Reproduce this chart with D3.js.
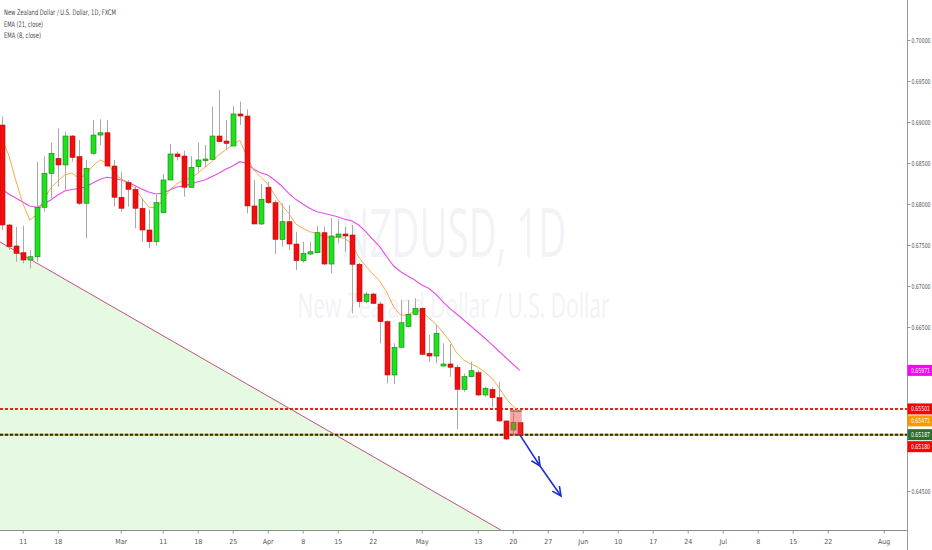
<!DOCTYPE html>
<html>
<head>
<meta charset="utf-8">
<script src="https://d3js.org/d3.v7.min.js"></script>
<style>
html, body { margin: 0; padding: 0; background: #fff; overflow: hidden; }
text { font-family: "Liberation Sans Narrow", "DejaVu Sans Condensed", sans-serif; }
</style>
</head>
<body>
<div id="chart"></div>
<script>
// NZDUSD daily, FXCM, Feb 6 - May 21 2019
var dates = ['02-06','02-07','02-08','02-11','02-12','02-13','02-14','02-15','02-18','02-19',
	'02-20','02-21','02-22','02-25','02-26','02-27','02-28','03-01','03-04','03-05',
	'03-06','03-07','03-08','03-11','03-12','03-13','03-14','03-15','03-18','03-19',
	'03-20','03-21','03-22','03-25','03-26','03-27','03-28','03-29','04-01','04-02',
	'04-03','04-04','04-05','04-08','04-09','04-10','04-11','04-12','04-15','04-16',
	'04-17','04-18','04-19','04-22','04-23','04-24','04-25','04-26','04-29','04-30',
	'05-01','05-02','05-03','05-06','05-07','05-08','05-09','05-10','05-13','05-14',
	'05-15','05-16','05-17','05-20','05-21'];

var open = [0.68963,0.67744,0.67488,0.67406,0.67317,0.67357,0.67960,0.68374,0.68557,0.68476,
	0.68829,0.68577,0.68009,0.68618,0.68841,0.68869,0.68463,0.68082,0.68260,0.68179,
	0.67948,0.67683,0.67540,0.67894,0.68293,0.68610,0.68585,0.68204,0.68455,0.68529,
	0.68545,0.68829,0.68768,0.68707,0.69098,0.69073,0.67976,0.67756,0.68204,0.68016,
	0.67569,0.67784,0.67512,0.67309,0.67390,0.67406,0.67650,0.67268,0.67598,0.67634,
	0.67622,0.67265,0.66809,0.66902,0.66780,0.66565,0.65915,0.66252,0.66504,0.66655,
	0.66728,0.66180,0.66146,0.66024,0.66049,0.66009,0.65740,0.65894,0.65943,0.65671,
	0.65740,0.65638,0.65354,0.65244,0.65333];
var high = [0.69067,0.67760,0.67722,0.67735,0.67439,0.68516,0.68582,0.68748,0.68923,0.68882,
	0.68841,0.68780,0.68537,0.69024,0.69033,0.69024,0.68537,0.68394,0.68293,0.68211,
	0.68070,0.67935,0.68110,0.68366,0.68732,0.68640,0.68650,0.68585,0.68748,0.68720,
	0.69187,0.69390,0.69024,0.69195,0.69248,0.69155,0.68293,0.68244,0.68272,0.68049,
	0.68008,0.67988,0.67662,0.67540,0.67540,0.67732,0.67722,0.67826,0.67813,0.67720,
	0.67744,0.67280,0.66930,0.66918,0.66808,0.66580,0.66301,0.66829,0.66829,0.66850,
	0.66740,0.66402,0.66524,0.66301,0.66293,0.66037,0.65935,0.66077,0.65976,0.65772,
	0.65764,0.65833,0.65354,0.65455,0.65333];
var low = [0.67683,0.67440,0.67296,0.67277,0.67216,0.67296,0.67906,0.68070,0.68211,0.68171,
	0.68516,0.67988,0.67582,0.68598,0.68720,0.68455,0.67967,0.67906,0.67967,0.67704,
	0.67540,0.67460,0.67491,0.67886,0.68293,0.68530,0.68089,0.68204,0.68394,0.68447,
	0.68537,0.68760,0.68659,0.68707,0.68963,0.67886,0.67756,0.67744,0.68000,0.67390,
	0.67480,0.67439,0.67195,0.67284,0.67378,0.67399,0.67256,0.67155,0.67520,0.67418,
	0.66667,0.66740,0.66789,0.66780,0.66301,0.65813,0.65805,0.66252,0.66496,0.66646,
	0.66160,0.66077,0.66057,0.66016,0.65894,0.65252,0.65711,0.65887,0.65659,0.65650,
	0.65521,0.65345,0.65122,0.65183,0.65174];
var close = [0.67744,0.67479,0.67399,0.67317,0.67357,0.67960,0.68374,0.68618,0.68476,0.68829,
	0.68569,0.68009,0.68435,0.68841,0.68869,0.68463,0.68082,0.67948,0.68179,0.67948,
	0.67683,0.67540,0.68016,0.68293,0.68610,0.68577,0.68204,0.68447,0.68537,0.68549,
	0.68829,0.68760,0.68740,0.69098,0.69073,0.67976,0.67756,0.68057,0.68016,0.67569,
	0.67784,0.67512,0.67309,0.67399,0.67418,0.67650,0.67268,0.67610,0.67634,0.67610,
	0.67265,0.66809,0.66902,0.66789,0.66565,0.65915,0.66252,0.66552,0.66655,0.66728,
	0.66167,0.66146,0.66423,0.66049,0.66009,0.65740,0.65894,0.65967,0.65671,0.65752,
	0.65638,0.65354,0.65134,0.65338,0.65180];

// indicator values
var ema21 = [0.68183,0.68122,0.68073,0.68024,0.67976,0.67960,0.68000,0.68049,0.68110,0.68159,
	0.68177,0.68189,0.68207,0.68256,0.68299,0.68326,0.68317,0.68293,0.68268,0.68226,
	0.68183,0.68146,0.68122,0.68134,0.68171,0.68207,0.68220,0.68244,0.68272,0.68293,
	0.68333,0.68374,0.68423,0.68463,0.68516,0.68496,0.68423,0.68382,0.68354,0.68293,
	0.68220,0.68130,0.68057,0.68000,0.67948,0.67906,0.67887,0.67866,0.67845,0.67813,
	0.67796,0.67744,0.67662,0.67570,0.67479,0.67357,0.67244,0.67174,0.67122,0.67073,
	0.67012,0.66972,0.66902,0.66809,0.66728,0.66659,0.66585,0.66512,0.66439,0.66366,
	0.66287,0.66207,0.66128,0.66049,0.65971];
var ema8 = [0.68793,0.68598,0.68293,0.68012,0.67805,0.67866,0.68049,0.68195,0.68280,0.68354,
	0.68378,0.68317,0.68354,0.68463,0.68537,0.68500,0.68390,0.68305,0.68268,0.68195,
	0.68073,0.67963,0.67951,0.68037,0.68171,0.68244,0.68293,0.68317,0.68374,0.68448,
	0.68516,0.68598,0.68659,0.68720,0.68780,0.68585,0.68415,0.68329,0.68244,0.68110,
	0.67988,0.67887,0.67756,0.67704,0.67662,0.67643,0.67601,0.67594,0.67594,0.67582,
	0.67512,0.67354,0.67244,0.67146,0.67061,0.66927,0.66744,0.66646,0.66646,0.66695,
	0.66695,0.66610,0.66537,0.66439,0.66329,0.66183,0.66098,0.66049,0.66012,0.65951,
	0.65878,0.65768,0.65634,0.65537,0.65471];

var priceTicks = [0.645,0.650,0.655,0.660,0.665,0.670,0.675,0.680,0.685,0.690,0.695,0.700];
var tickIdx  = [3,8,17,23,28,33,38,43,48,53,60,68,73,78,83,88,93,98,103,108,113,118,126];
var tickText = ['11','18','Mar','11','18','25','Apr','8','15','22','May','13','20','27','Jun','10','17','24','Jul','8','15','22','Aug'];

// drawings (bar index, price)
var trendLine = [[-1, 0.67574], [71.3, 0.64024]];
var levelRed = 0.65501;
var levelBlack = 0.65187;
var zoneBox = [[72.6, 0.65476], [74.3, 0.65174]];
var arrowPts = [[74, 0.65187], [76.9, 0.64805], [79.9, 0.64439]];
var tagValues = [0.65971, 0.65501, 0.65471, 0.65187, 0.65180];

var W = 932, H = 550;
var plotW = 907, plotH = 530;
var fmt = d3.format('.5f');

var svg = d3.select('#chart').append('svg').attr('width', W).attr('height', H);

var x = d3.scaleLinear().domain([0, 126]).range([1.7, 883.7]);
var y = d3.scaleLinear().domain([0.645, 0.700]).range([491, 40]);
var bodyW = 5;

// squeeze a label horizontally to a target width (the scale's font is very narrow)
function squeeze(sel, width) {
	sel.each(function(){
		var t = d3.select(this);
		var len = this.getComputedTextLength();
		var x0 = +t.attr('x') || 0, y0 = +t.attr('y') || 0;
		if (len > width) {
			var k = width / len;
			t.attr('transform', 'translate(' + x0 + ',' + y0 + ') scale(' + k + ',1)')
				.attr('x', 0).attr('y', 0);
		}
	});
}

svg.append('clipPath').attr('id', 'plotclip')
	.append('rect').attr('x', 0).attr('y', 0).attr('width', plotW).attr('height', plotH);

var plot = svg.append('g').attr('clip-path', 'url(#plotclip)');

// watermark
plot.append('text')
	.attr('x', plotW / 2).attr('y', 257)
	.attr('text-anchor', 'middle')
	.attr('font-size', 68)
	.attr('textLength', 226).attr('lengthAdjust', 'spacingAndGlyphs')
	.style('font-family', '"Open Sans", "Noto Sans", sans-serif')
	.attr('fill', '#f2f3f7')
	.text('NZDUSD, 1D');
plot.append('text')
	.attr('x', plotW / 2).attr('y', 318)
	.attr('text-anchor', 'middle')
	.attr('font-size', 34)
	.attr('textLength', 312).attr('lengthAdjust', 'spacingAndGlyphs')
	.style('font-family', '"Open Sans", "Noto Sans", sans-serif')
	.attr('fill', '#f2f3f7')
	.text('New Zealand Dollar / U.S. Dollar');

// green zone under the trend line
var bottomPrice = y.invert(plotH);
plot.append('path')
	.attr('d', d3.line()([
		[x(trendLine[0][0]), y(trendLine[0][1])],
		[x(trendLine[1][0]), y(trendLine[1][1])],
		[x(trendLine[0][0]), y(bottomPrice)]
	]) + 'Z')
	.attr('fill', '#e6f9e2');
plot.append('line')
	.attr('x1', x(trendLine[0][0])).attr('y1', y(trendLine[0][1]))
	.attr('x2', x(trendLine[1][0])).attr('y2', y(trendLine[1][1]))
	.attr('stroke', '#c2507a').attr('stroke-width', 1);

// horizontal levels
plot.append('line')
	.attr('x1', 0).attr('x2', plotW)
	.attr('y1', y(levelRed)).attr('y2', y(levelRed))
	.attr('stroke', '#ff1a1a').attr('stroke-width', 2)
	.attr('stroke-dasharray', '3,2');
plot.append('line')
	.attr('x1', 0).attr('x2', plotW)
	.attr('y1', y(levelBlack)).attr('y2', y(levelBlack))
	.attr('stroke', '#c9b227').attr('stroke-width', 2);
plot.append('line')
	.attr('x1', 0).attr('x2', plotW)
	.attr('y1', y(levelBlack)).attr('y2', y(levelBlack))
	.attr('stroke', '#2b2b2b').attr('stroke-width', 2)
	.attr('stroke-dasharray', '3,2');

// EMAs
var emaLine = d3.line().x(function(d, i){ return x(i); }).y(function(d){ return y(d); });
plot.append('path').attr('d', emaLine(ema21))
	.attr('fill', 'none').attr('stroke', '#ea4ce8').attr('stroke-width', 1.1);
plot.append('path').attr('d', emaLine(ema8))
	.attr('fill', 'none').attr('stroke', '#f6a94b').attr('stroke-width', 1);

// candles
var idx = d3.range(dates.length);
var candles = plot.append('g').selectAll('g').data(idx).enter().append('g');
candles.append('line')
	.attr('x1', function(i){ return Math.round(x(i)) + 0.5; })
	.attr('x2', function(i){ return Math.round(x(i)) + 0.5; })
	.attr('y1', function(i){ return y(high[i]); })
	.attr('y2', function(i){ return y(low[i]); })
	.attr('stroke', '#a9a9a9').attr('stroke-width', 1);
candles.append('rect')
	.attr('x', function(i){ return Math.round(x(i)) + 0.5 - bodyW / 2; })
	.attr('width', bodyW)
	.attr('y', function(i){ return y(Math.max(open[i], close[i])); })
	.attr('height', function(i){ return Math.max(1.5, Math.abs(y(open[i]) - y(close[i]))); })
	.attr('fill', function(i){ return close[i] >= open[i] ? '#1fe21f' : '#f50d0d'; })
	.attr('stroke', function(i){ return close[i] >= open[i] ? '#1a7a1a' : '#b01010'; })
	.attr('stroke-width', 0.6);

// zone box over last bars
plot.append('rect')
	.attr('x', x(zoneBox[0][0])).attr('y', y(zoneBox[0][1]))
	.attr('width', x(zoneBox[1][0]) - x(zoneBox[0][0]))
	.attr('height', y(zoneBox[1][1]) - y(zoneBox[0][1]))
	.attr('fill', 'rgba(240,60,60,0.45)');
plot.append('line')
	.attr('x1', x(zoneBox[0][0])).attr('x2', x(zoneBox[1][0]))
	.attr('y1', y(zoneBox[0][1])).attr('y2', y(zoneBox[0][1]))
	.attr('stroke', '#8a3030').attr('stroke-width', 1);

// arrow
var ap = arrowPts.map(function(p){ return [x(p[0]), y(p[1])]; });
plot.append('path').attr('d', d3.line()(ap))
	.attr('fill', 'none').attr('stroke', '#1f2fd6').attr('stroke-width', 1.6);
function head(p0, p1) {
	var a = Math.atan2(p1[1] - p0[1], p1[0] - p0[0]);
	var L = 10, s = 0.45;
	return d3.line()([
		[p1[0] - L * Math.cos(a - s), p1[1] - L * Math.sin(a - s)],
		p1,
		[p1[0] - L * Math.cos(a + s), p1[1] - L * Math.sin(a + s)]
	]);
}
plot.append('path').attr('d', head(ap[0], ap[1]))
	.attr('fill', 'none').attr('stroke', '#1f2fd6').attr('stroke-width', 1.6);
plot.append('path').attr('d', head(ap[1], ap[2]))
	.attr('fill', 'none').attr('stroke', '#1f2fd6').attr('stroke-width', 1.6);

// legend
var legend = ['New Zealand Dollar / U.S. Dollar, 1D, FXCM', 'EMA (21, close)', 'EMA (8, close)'];
var legendLen = [112, 39, 37];
svg.append('g').selectAll('text').data(legend).enter().append('text')
	.attr('x', 4).attr('y', function(d, i){ return 15 + i * 11.7; })
	.attr('font-size', 7.6).attr('fill', '#4a4a4a')
	.attr('textLength', function(d, i){ return legendLen[i]; })
	.attr('lengthAdjust', 'spacingAndGlyphs')
	.text(function(d){ return d; });

// bottom axis
var xAxis = d3.axisBottom(x).tickValues(tickIdx)
	.tickFormat(function(d, i){ return tickText[i]; })
	.tickSize(3).tickPadding(6);
var gx = svg.append('g').attr('transform', 'translate(0,' + (plotH + 0.5) + ')').call(xAxis);
gx.select('.domain').attr('d', 'M0,0H' + plotW).attr('stroke', '#8c8c8c').attr('stroke-width', 1.2);
gx.selectAll('.tick line').attr('stroke', '#9a9a9a');
gx.selectAll('.tick text').attr('font-size', 7).attr('fill', '#555')
	.style('font-family', '"Liberation Sans Narrow", "DejaVu Sans Condensed", sans-serif');

// price tags on the right scale (pushed apart so they don't collide)
var tagColors = ['#ff00ff', '#ff0000', '#ff9800', '#2e6e2e', '#ff0000'];
var tagY = [];
tagValues.forEach(function(v, i){
	var ty = y(v);
	if (i > 0 && ty < tagY[i - 1] + 12) ty = tagY[i - 1] + 12;
	tagY.push(ty);
});

// right axis, hiding tick labels covered by a tag
var shownTicks = priceTicks.filter(function(t){
	return tagY.every(function(ty){ return Math.abs(y(t) - ty) > 9; });
});
var yAxis = d3.axisRight(y).tickValues(shownTicks)
	.tickFormat(fmt).tickSize(3).tickPadding(1);
var gy = svg.append('g').attr('transform', 'translate(' + (plotW + 0.5) + ',0)').call(yAxis);
gy.select('.domain').attr('d', 'M0,0V' + H).attr('stroke', '#9a9a9a');
gy.selectAll('.tick line').attr('stroke', '#9a9a9a');
gy.selectAll('.tick text').attr('font-size', 6.8).attr('fill', '#555')
	.style('font-family', '"Liberation Sans Narrow", "DejaVu Sans Condensed", sans-serif')
	.call(squeeze, 19);

var tags = svg.append('g').selectAll('g').data(tagValues).enter().append('g')
	.attr('transform', function(d, i){ return 'translate(' + (plotW + 0.5) + ',' + tagY[i] + ')'; });
tags.append('rect')
	.attr('x', 0).attr('y', -5.5).attr('width', W - plotW).attr('height', 11)
	.attr('fill', function(d, i){ return tagColors[i]; });
tags.append('text')
	.attr('x', 3.5).attr('y', 2.4)
	.attr('font-size', 6.8).attr('fill', '#fff')
	.text(function(d){ return fmt(d); })
	.call(squeeze, 19);
</script>
</body>
</html>
